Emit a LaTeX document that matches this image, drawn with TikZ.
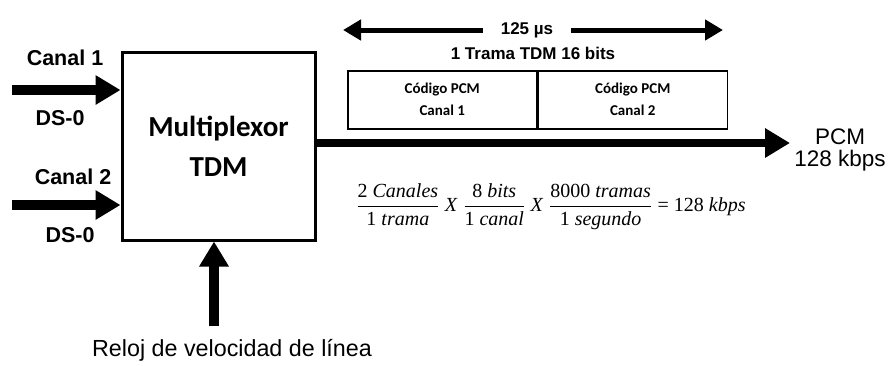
\documentclass[tikz,border=0pt]{standalone}
\usepackage{amsmath}
\usepackage{fontspec}
\setmainfont{Liberation Sans}
\newfontfamily\calib{Carlito}
\newfontfamily\eqfont{Liberation Serif}
\newcommand{\eqt}[1]{\text{\eqfont #1}}
\usetikzlibrary{arrows.meta}
\begin{document}
\begin{tikzpicture}[x=1pt,y=-1pt,
  lbl/.style={font=\fontsize{21.5}{22}\selectfont\bfseries, inner sep=0pt},
  lblr/.style={font=\fontsize{20}{22}\selectfont, inner sep=0pt},
  bigarrow/.style={line width=10pt, -{Triangle[length=25pt,width=28pt]}},
  outarrow/.style={line width=8pt, -{Triangle[length=25pt,width=28pt]}},
  toparrow/.style={line width=5pt, -{Triangle[length=18pt,width=20pt]}},
  cell/.style={draw, line width=1.5pt, minimum width=189pt, minimum height=58pt, inner sep=0pt,
    font=\calib\bfseries\fontsize{15}{22}\selectfont, align=center},
]
\useasboundingbox (0,0) rectangle (890,365);
% main box
\node[draw, line width=3pt, minimum width=193pt, minimum height=188pt, inner sep=0pt,
  font=\calib\bfseries\fontsize{29}{40}\selectfont, align=center]
  (mux) at (218.5,146) {Multiplexor\\TDM};
% inputs
\coordinate (in1) at (12,90);
\coordinate (in2) at (12,205);
\draw[bigarrow] (in1) -- (mux.west |- in1);
\draw[bigarrow] (in2) -- (mux.west |- in2);
\node[lbl] (c1) at (65,58) {Canal 1};
\node[lbl] (d1) at (60,118) {DS-0};
\node[lbl] (c2) at (73,177) {Canal 2};
\node[lbl] (d2) at (70,235) {DS-0};
% clock
\coordinate (clk) at (214,326);
\draw[bigarrow] (clk) -- (mux.south -| clk);
\node[lblr, font=\fontsize{23.3}{24}\selectfont] (reloj) at (232,350) {Reloj de velocidad de línea};
% output
\coordinate (out) at (790,143);
\draw[outarrow] (mux.east |- out) -- (out);
\node[lblr, align=center, font=\fontsize{22.5}{22}\selectfont] (pcm) at (840,150) {PCM\\128 kbps};
% frame
\node[cell, anchor=north west] (f1) at (347,70) {Código PCM\\Canal 1};
\node[cell, anchor=north west] (f2) at (f1.north east) {Código PCM\\Canal 2};
\node[lbl, font=\fontsize{17}{18}\selectfont\bfseries] (t125) at (527,30) {125 µs};
\node[lbl, font=\fontsize{17}{18}\selectfont\bfseries] (trama) at (533,53) {1 Trama TDM 16 bits};
\coordinate (la) at (343,30);
\coordinate (ra) at (723,30);
\draw[toparrow] (t125.west) ++(-18,0) -- (la);
\draw[toparrow] (t125.east) ++(18,0) -- (ra);
% equation
\node[inner sep=0pt, font=\fontsize{20}{23}\selectfont] (eq) at (551,207)
 {$\dfrac{\eqt{2 \textit{Canales}}}{\eqt{1 \textit{trama}}}\ \eqt{\textit{X}}\ \dfrac{\eqt{8 \textit{bits}}}{\eqt{1 \textit{canal}}}\ \eqt{\textit{X}}\ \dfrac{\eqt{8000 \textit{tramas}}}{\eqt{1 \textit{segundo}}} \ \eqt{= 128 \textit{kbps}}$};
\end{tikzpicture}
\end{document}
